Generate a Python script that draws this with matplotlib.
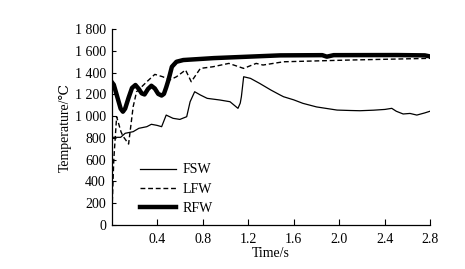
import matplotlib
matplotlib.use("Agg")
import matplotlib.pyplot as plt
from matplotlib.ticker import FuncFormatter

plt.rcParams['font.family'] = ['Liberation Serif', 'DejaVu Serif']

fsw_t = [0.0, 0.08, 0.12, 0.19, 0.24, 0.31, 0.35, 0.40, 0.44, 0.48, 0.54, 0.60, 0.66, 0.69, 0.73,
         0.78, 0.84, 0.95, 1.04, 1.11, 1.13, 1.14, 1.16, 1.22, 1.30, 1.40, 1.48, 1.51, 1.60, 1.68,
         1.80, 1.98, 2.10, 2.18, 2.30, 2.40, 2.46, 2.50, 2.56, 2.62, 2.68, 2.75, 2.81]
fsw_T = [805, 805, 842, 857, 888, 903, 925, 915, 903, 1010, 980, 970, 995, 1133, 1225,
         1195, 1164, 1149, 1133, 1072, 1120, 1179, 1363, 1348, 1302, 1240, 1195, 1179, 1150, 1118,
         1085, 1056, 1052, 1050, 1055, 1062, 1072, 1045, 1020, 1025, 1010, 1030, 1050]

lfw_t = [0.0, 0.02, 0.045, 0.083, 0.10, 0.15, 0.19, 0.22, 0.31, 0.38, 0.45, 0.51, 0.57, 0.65,
         0.70, 0.78, 0.89, 1.03, 1.16, 1.27, 1.33, 1.51, 2.09, 2.81]
lfw_T = [0, 600, 995, 857, 817, 743, 1087, 1225, 1317, 1385, 1363, 1333, 1363, 1425,
         1317, 1440, 1455, 1486, 1440, 1486, 1471, 1501, 1517, 1533]

rfw_t = [0.0, 0.02, 0.05, 0.08, 0.10, 0.12, 0.15, 0.18, 0.21, 0.24, 0.265, 0.29, 0.32, 0.35,
         0.38, 0.41, 0.44, 0.46, 0.48, 0.50, 0.53, 0.57, 0.63, 0.9, 1.48, 1.85, 1.89, 1.95,
         2.5, 2.75, 2.81]
rfw_T = [1317, 1290, 1180, 1070, 1041, 1070, 1170, 1260, 1287, 1250, 1210, 1200, 1250, 1280,
         1255, 1205, 1190, 1205, 1265, 1333, 1455, 1501, 1517, 1535, 1560, 1562, 1548, 1562,
         1563, 1560, 1547]

yticks = [0, 200, 400, 600, 800, 1000, 1200, 1400, 1600, 1800]
xticks = [0.4, 0.8, 1.2, 1.6, 2.0, 2.4, 2.8]

fig = plt.figure(figsize=(4.65, 2.69), dpi=100)
ax = fig.add_axes([0.2398, 0.1647, 0.6860, 0.7263])

ax.plot(fsw_t, fsw_T, color='black', lw=0.9, label='FSW')
ax.plot(lfw_t, lfw_T, color='black', lw=1.0, ls=(0, (3.5, 2)), label='LFW')
ax.plot(rfw_t, rfw_T, color='black', lw=3.2, label='RFW', solid_joinstyle='round')

ax.set_xlim(0, 2.8)
ax.set_ylim(0, 1800)
ax.set_xticks(xticks)
ax.set_yticks(yticks)
ax.xaxis.set_major_formatter(FuncFormatter(lambda v, p: f"{v:.1f}"))
ax.yaxis.set_major_formatter(FuncFormatter(lambda v, p: f"{int(v):,}".replace(",", " ")))
ax.tick_params(axis='both', direction='in', labelsize=10, width=0.8, color='black')
ax.tick_params(axis='y', length=3, pad=4)
ax.tick_params(axis='x', length=4, pad=6)
for s in ['top', 'right']:
    ax.spines[s].set_visible(False)
for s in ['left', 'bottom']:
    ax.spines[s].set_linewidth(0.9)

ax.set_xlabel('Time/s', fontsize=10, labelpad=1)
ax.set_ylabel('Temperature/℃', fontsize=10, labelpad=2)

ax.legend(loc='lower left', bbox_to_anchor=(0.06, 0.0), frameon=False, fontsize=10,
          handlelength=2.6, handletextpad=0.4, labelspacing=0.45, borderaxespad=0.3)

fig.savefig('out.png', dpi=100)
